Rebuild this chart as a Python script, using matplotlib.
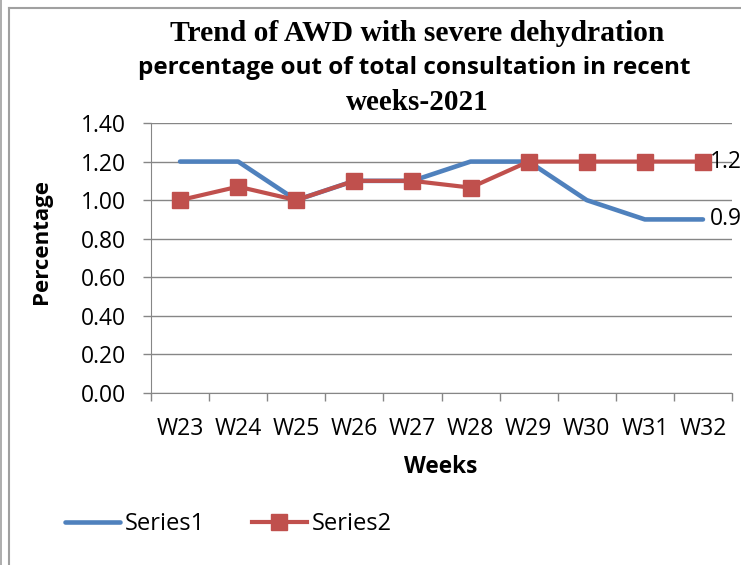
import matplotlib
matplotlib.use("Agg")
import matplotlib.pyplot as plt
from matplotlib.lines import Line2D

weeks = ["W23", "W24", "W25", "W26", "W27", "W28", "W29", "W30", "W31", "W32"]
series1 = [1.2, 1.2, 1.0, 1.1, 1.1, 1.2, 1.2, 1.0, 0.9, 0.9]
series2 = [1.0, 1.07, 1.0, 1.1, 1.1, 1.065, 1.2, 1.2, 1.2, 1.2]
yticks = [0.0, 0.2, 0.4, 0.6, 0.8, 1.0, 1.2, 1.4]

W, H = 741, 565
BLUE = "#4F81BD"
RED = "#C0504D"
GREY = "#868686"
SANS = ["Open Sans", "DejaVu Sans"]
SERIF = ["Liberation Serif", "DejaVu Serif"]
FS = 16.5


def fx(px):
    return px / W


def fy(py):
    return 1 - py / H


fig = plt.figure(figsize=(W / 100, H / 100), dpi=100)
ax = fig.add_axes([fx(151), fy(393), fx(732) - fx(151), fy(123) - fy(393)])

x = list(range(len(weeks)))
ax.plot(x, series1, color=BLUE, lw=3.3, solid_capstyle="round", label="Series1", zorder=3)
ax.plot(x, series2, color=RED, lw=3, marker="s", markersize=11.5, label="Series2", zorder=4)

ax.set_xlim(-0.5, len(weeks) - 0.5)
ax.set_ylim(0, 1.4)
ax.set_yticks(yticks)
ax.set_yticklabels([f"{v:.2f}" for v in yticks], fontfamily=SANS, fontsize=FS)
ax.set_xticks(x)
ax.set_xticklabels(weeks, fontfamily=SANS, fontsize=FS)
ax.set_xticks([i - 0.5 for i in range(len(weeks) + 1)], minor=True)
ax.tick_params(axis="x", which="major", length=0, pad=17)
ax.tick_params(axis="x", which="minor", length=6, color=GREY, width=1)
ax.tick_params(axis="y", length=6, color=GREY, width=1, pad=12)
ax.grid(axis="y", color=GREY, lw=1)
ax.set_axisbelow(True)
for s in ["top", "right"]:
    ax.spines[s].set_visible(False)
for s in ["left", "bottom"]:
    ax.spines[s].set_color(GREY)

# data labels on the last point
ax.annotate(f"{series2[-1]:g}", (x[-1], series2[-1]), xytext=(5, 0), textcoords="offset points",
            ha="left", va="center", fontfamily=SANS, fontsize=FS, annotation_clip=False)
ax.annotate(f"{series1[-1]:g}", (x[-1], series1[-1]), xytext=(5, 0), textcoords="offset points",
            ha="left", va="center", fontfamily=SANS, fontsize=FS, annotation_clip=False)

# title, three lines in mixed fonts
fig.text(fx(417), fy(41), "Trend of AWD with severe dehydration", ha="center", va="baseline",
         fontfamily=SERIF, fontweight="bold", fontsize=21.3)
fig.text(fx(414), fy(74), "percentage out of total consultation in recent", ha="center", va="baseline",
         fontfamily=SANS, fontweight="bold", fontsize=17.5)
fig.text(fx(417), fy(110), "weeks-2021", ha="center", va="baseline",
         fontfamily=SERIF, fontweight="bold", fontsize=21)

fig.text(fx(41), fy(242), "Percentage", rotation=90, ha="center", va="center",
         fontfamily=SANS, fontweight="bold", fontsize=16)
fig.text(fx(441), fy(467), "Weeks", ha="center", va="center",
         fontfamily=SANS, fontweight="bold", fontsize=16.3)

fig.legend(loc="center left", bbox_to_anchor=(fx(65), fy(524)), ncol=2, frameon=False,
           prop={"family": SANS, "size": 17}, handlelength=2.35, handletextpad=0.2,
           columnspacing=1.95, borderpad=0, borderaxespad=0)

# chart border
fig.add_artist(Line2D([fx(9), 1], [fy(8), fy(8)], color="#A0A0A0", lw=1.5))
fig.add_artist(Line2D([fx(9), fx(9)], [fy(8), 0], color="#A0A0A0", lw=1.5))
fig.add_artist(Line2D([fx(1), fx(1)], [1, 0], color="#A0A0A0", lw=1.2))

fig.savefig("out.png", dpi=100)
